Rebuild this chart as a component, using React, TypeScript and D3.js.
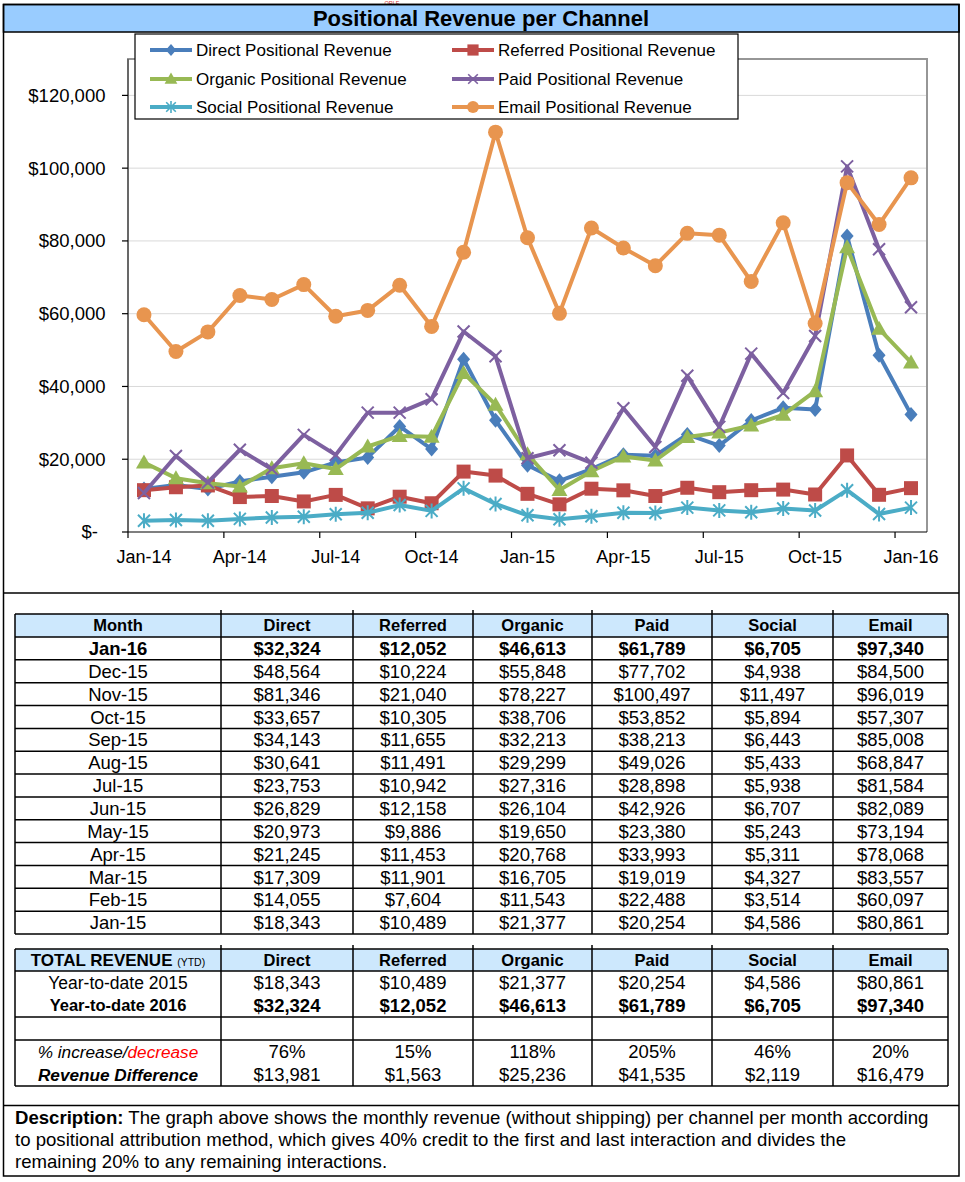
import React from 'react';
import * as d3 from 'd3';

const months = [
  'Jan-14', 'Feb-14', 'Mar-14', 'Apr-14', 'May-14', 'Jun-14', 'Jul-14', 'Aug-14', 'Sep-14', 'Oct-14', 'Nov-14', 'Dec-14',
  'Jan-15', 'Feb-15', 'Mar-15', 'Apr-15', 'May-15', 'Jun-15', 'Jul-15', 'Aug-15', 'Sep-15', 'Oct-15', 'Nov-15', 'Dec-15',
  'Jan-16',
];

const direct = [11800, 12900, 11800, 13900, 15200, 16400, 19100, 20500, 29000, 22800, 47500, 30700,
  18343, 14055, 17309, 21245, 20973, 26829, 23753, 30641, 34143, 33657, 81346, 48564, 32324];
const referred = [11500, 12300, 12800, 9600, 9900, 8400, 10200, 6500, 9700, 7900, 16600, 15500,
  10489, 7604, 11901, 11453, 9886, 12158, 10942, 11491, 11655, 10305, 21040, 10224, 12052];
const organic = [19100, 14800, 13400, 12500, 17500, 18900, 17300, 23500, 26400, 26200, 43700, 35000,
  21377, 11543, 16705, 20768, 19650, 26104, 27316, 29299, 32213, 38706, 78227, 55848, 46613];
const paid = [10700, 20900, 13600, 22600, 17300, 26700, 21200, 32800, 32800, 36500, 55100, 48300,
  20254, 22488, 19019, 33993, 23380, 42926, 28898, 49026, 38213, 53852, 100497, 77702, 61789];
const social = [3100, 3300, 3100, 3600, 4000, 4200, 4900, 5300, 7400, 5800, 12000, 7700,
  4586, 3514, 4327, 5311, 5243, 6707, 5938, 5433, 6443, 5894, 11497, 4938, 6705];
const email = [59700, 49600, 55000, 65000, 63900, 68000, 59300, 60900, 67800, 56500, 76900, 109900,
  80861, 60097, 83557, 78068, 73194, 82089, 81584, 68847, 85008, 57307, 96019, 84500, 97340];

const yTicks = [0, 20000, 40000, 60000, 80000, 100000, 120000];
const xTickLabels = ['Jan-14', 'Apr-14', 'Jul-14', 'Oct-14', 'Jan-15', 'Apr-15', 'Jul-15', 'Oct-15', 'Jan-16'];

const channels = ['Direct', 'Referred', 'Organic', 'Paid', 'Social', 'Email'];

const series = [
  { name: 'Direct Positional Revenue', values: direct, color: '#4A7EBB', marker: 'diamond' },
  { name: 'Referred Positional Revenue', values: referred, color: '#BE4B48', marker: 'square' },
  { name: 'Organic Positional Revenue', values: organic, color: '#98B954', marker: 'triangle' },
  { name: 'Paid Positional Revenue', values: paid, color: '#7D60A0', marker: 'x' },
  { name: 'Social Positional Revenue', values: social, color: '#4BACC6', marker: 'star' },
  { name: 'Email Positional Revenue', values: email, color: '#E8954F', marker: 'circle' },
];

const FONT = 'Liberation Sans, Arial, sans-serif';

function markerPath(kind: string): string {
  switch (kind) {
    case 'diamond': return 'M0,-7.5L6.5,0L0,7.5L-6.5,0Z';
    case 'square': return 'M-7,-7H7V7H-7Z';
    case 'triangle': return 'M0,-8L8,6L-8,6Z';
    case 'circle': return d3.symbol(d3.symbolCircle, Math.PI * 7.5 * 7.5)() || '';
    case 'x': return 'M-6,-6L6,6M6,-6L-6,6';
    default: return 'M-6,-6L6,6M6,-6L-6,6M0,-7.5V7.5';
  }
}

const Marker = ({ kind, color, x, y }: { kind: string; color: string; x: number; y: number }) => {
  const stroked = kind === 'x' || kind === 'star';
  return (
    <path
      d={markerPath(kind)}
      transform={`translate(${x},${y})`}
      fill={stroked ? 'none' : color}
      stroke={color}
      strokeWidth={stroked ? 2 : 0}
    />
  );
};

export default function App() {
  const x = d3.scaleBand<string>().domain(months).range([128, 927]).padding(0);
  const y = d3.scaleLinear().domain([0, 130000]).range([532, 59]);
  const cx = (m: string) => (x(m) || 0) + x.bandwidth() / 2;

  const line = d3.line<number>()
    .x((_, i) => cx(months[i]))
    .y(d => y(d));

  const money = d3.format('$,.0f');
  const pct = d3.format('.0%');

  // table 1: newest month first, last 13 months
  const tableMonths = months.slice(12).reverse();
  const colX = [15, 221, 353, 473, 592, 712, 833, 948];
  const colC = colX.slice(0, -1).map((v, i) => (v + colX[i + 1]) / 2);
  const t1Top = 614;
  const t1Head = 637;
  const rowH = (934 - t1Head) / 13;

  const ytd2015 = series.map(s => s.values[12]);
  const ytd2016 = series.map(s => s.values[24]);
  const change = ytd2016.map((v, i) => v / ytd2015[i] - 1);
  const diff = ytd2016.map((v, i) => v - ytd2015[i]);

  const t2Rows = [949, 971, 994, 1017, 1040, 1063, 1086];

  return (
    <svg width={965} height={1182} style={{ position: 'absolute', left: 0, top: 0, display: 'block' }} fontFamily={FONT}>
      <rect x={0} y={0} width={965} height={1182} fill="#fff" />
      <text x={392} y={4.5} fontSize={5.5} fill="#D03030" textAnchor="middle">ORLE</text>

      {/* frame + title */}
      <rect x={3.5} y={4.5} width={955.5} height={27.5} fill="#99CCFF" stroke="#000" strokeWidth={1.5} />
      <text x={481} y={26} textAnchor="middle" fontSize={22} fontWeight="bold">Positional Revenue per Channel</text>
      <rect x={3.5} y={4.5} width={955.5} height={1171.5} fill="none" stroke="#000" strokeWidth={1.5} />
      <line x1={3.5} x2={959} y1={593} y2={593} stroke="#000" strokeWidth={1.5} />
      <line x1={3.5} x2={959} y1={1105.5} y2={1105.5} stroke="#000" strokeWidth={1.5} />

      {/* plot area */}
      {yTicks.filter(t => t > 0).map(t => (
        <line key={t} x1={128} x2={927} y1={y(t)} y2={y(t)} stroke="#D9D9D9" strokeWidth={1} />
      ))}
      <path d={`M128,532V59H927V532`} fill="none" stroke="#969696" strokeWidth={2} />
      <line x1={128} x2={128} y1={59} y2={532} stroke="#595959" strokeWidth={1.5} />
      <line x1={128} x2={927} y1={532} y2={532} stroke="#000" strokeWidth={1.2} />
      {yTicks.map(t => (
        <g key={t}>
          <line x1={122} x2={128} y1={y(t)} y2={y(t)} stroke="#000" strokeWidth={1.2} />
          <text x={t === 0 ? 98 : 105.5} y={y(t)} dy="0.35em" textAnchor="end" fontSize={18.5}>
            {t === 0 ? '$-' : money(t)}
          </text>
        </g>
      ))}
      {months.map((m, i) => i % 3 === 0 ? (
        <line key={m} x1={x(m)} x2={x(m)} y1={532} y2={538} stroke="#000" strokeWidth={1.2} />
      ) : null)}
      {xTickLabels.map(m => (
        <text key={m} x={cx(m)} y={563} textAnchor="middle" fontSize={18}>{m}</text>
      ))}

      {series.map(s => (
        <g key={s.name}>
          <path d={line(s.values) || ''} fill="none" stroke={s.color} strokeWidth={4} strokeLinejoin="round" />
          {s.values.map((v, i) => (
            <Marker key={i} kind={s.marker} color={s.color} x={cx(months[i])} y={y(v)} />
          ))}
        </g>
      ))}

      {/* legend */}
      <rect x={135} y={34} width={603} height={85} fill="#fff" stroke="#000" strokeWidth={1.2} />
      {series.map((s, i) => {
        const lx = i % 2 === 0 ? 150 : 452;
        const ly = [50, 79, 107][Math.floor(i / 2)];
        return (
          <g key={s.name}>
            <line x1={lx} x2={lx + 42} y1={ly} y2={ly} stroke={s.color} strokeWidth={4} />
            <g transform={`translate(${lx + 21},${ly}) scale(0.8)`}>
              <Marker kind={s.marker} color={s.color} x={0} y={0} />
            </g>
            <text x={lx + 46} y={ly} dy="0.35em" fontSize={17}>{s.name}</text>
          </g>
        );
      })}

      {/* monthly table */}
      <rect x={colX[0]} y={t1Top} width={colX[7] - colX[0]} height={t1Head - t1Top} fill="#CDE8FD" />
      {['Month', ...channels].map((h, i) => (
        <text key={h} x={colC[i]} y={(t1Top + t1Head) / 2} dy="0.36em" textAnchor="middle" fontSize={16.5} fontWeight="bold">{h}</text>
      ))}
      {tableMonths.map((m, r) => {
        const idx = months.indexOf(m);
        const cy = t1Head + rowH * (r + 0.5);
        const bold = r === 0 ? 'bold' : 'normal';
        return (
          <g key={m}>
            <text x={colC[0]} y={cy} dy="0.36em" textAnchor="middle" fontSize={18.5} fontWeight={bold}>{m}</text>
            {series.map((s, c) => (
              <text key={c} x={colC[c + 1]} y={cy} dy="0.36em" textAnchor="middle" fontSize={18.5} fontWeight={bold}>
                {money(s.values[idx])}
              </text>
            ))}
          </g>
        );
      })}
      {d3.range(14).map(r => (
        <line key={r} x1={colX[0]} x2={colX[7]} y1={t1Head + r * rowH} y2={t1Head + r * rowH} stroke="#000" strokeWidth={1.5} />
      ))}
      <line x1={colX[0]} x2={colX[7]} y1={t1Top} y2={t1Top} stroke="#000" strokeWidth={1.5} />
      {colX.map((cxv, i) => (
        <line key={i} x1={cxv} x2={cxv} y1={i === 0 || i === 7 ? t1Top : t1Top - 4} y2={934} stroke="#000" strokeWidth={1.5} />
      ))}

      {/* YTD table */}
      <rect x={colX[0]} y={t2Rows[0]} width={colX[7] - colX[0]} height={t2Rows[1] - t2Rows[0]} fill="#CDE8FD" />
      <text x={colC[0]} y={(t2Rows[0] + t2Rows[1]) / 2} dy="0.36em" textAnchor="middle" fontSize={17} fontWeight="bold">
        TOTAL REVENUE <tspan fontSize={10.5} fontWeight="normal">(YTD)</tspan>
      </text>
      {channels.map((h, i) => (
        <text key={h} x={colC[i + 1]} y={(t2Rows[0] + t2Rows[1]) / 2} dy="0.36em" textAnchor="middle" fontSize={16.5} fontWeight="bold">{h}</text>
      ))}
      <text x={colC[0]} y={(t2Rows[1] + t2Rows[2]) / 2} dy="0.36em" textAnchor="middle" fontSize={17.5}>Year-to-date 2015</text>
      <text x={colC[0]} y={(t2Rows[2] + t2Rows[3]) / 2} dy="0.36em" textAnchor="middle" fontSize={16.5} fontWeight="bold">Year-to-date 2016</text>
      <text x={colC[0]} y={(t2Rows[4] + t2Rows[5]) / 2} dy="0.36em" textAnchor="middle" fontSize={17.2} fontStyle="italic">
        % increase/<tspan fill="#FF0000">decrease</tspan>
      </text>
      <text x={colC[0]} y={(t2Rows[5] + t2Rows[6]) / 2} dy="0.36em" textAnchor="middle" fontSize={17.2} fontStyle="italic" fontWeight="bold">Revenue Difference</text>
      {channels.map((h, i) => (
        <g key={h}>
          <text x={colC[i + 1]} y={(t2Rows[1] + t2Rows[2]) / 2} dy="0.36em" textAnchor="middle" fontSize={18.5}>{money(ytd2015[i])}</text>
          <text x={colC[i + 1]} y={(t2Rows[2] + t2Rows[3]) / 2} dy="0.36em" textAnchor="middle" fontSize={18.5} fontWeight="bold">{money(ytd2016[i])}</text>
          <text x={colC[i + 1]} y={(t2Rows[4] + t2Rows[5]) / 2} dy="0.36em" textAnchor="middle" fontSize={18.5}>{pct(change[i])}</text>
          <text x={colC[i + 1]} y={(t2Rows[5] + t2Rows[6]) / 2} dy="0.36em" textAnchor="middle" fontSize={18.5}>{money(diff[i])}</text>
        </g>
      ))}
      {[0, 1, 3, 4, 6].map(r => (
        <line key={r} x1={colX[0]} x2={colX[7]} y1={t2Rows[r]} y2={t2Rows[r]} stroke="#000" strokeWidth={1.5} />
      ))}
      {colX.map((cxv, i) => (
        <line key={i} x1={cxv} x2={cxv} y1={i === 0 || i === 7 ? t2Rows[0] : t2Rows[0] - 4} y2={t2Rows[6]} stroke="#000" strokeWidth={1.5} />
      ))}

      {/* description */}
      <text x={15} y={1124} fontSize={18.6}>
        <tspan fontWeight="bold">Description:</tspan> The graph above shows the monthly revenue (without shipping) per channel per month according
      </text>
      <text x={15} y={1146} fontSize={18.6}>
        to positional attribution method, which gives 40% credit to the first and last interaction and divides the
      </text>
      <text x={15} y={1168} fontSize={18.6}>remaining 20% to any remaining interactions.</text>
    </svg>
  );
}
